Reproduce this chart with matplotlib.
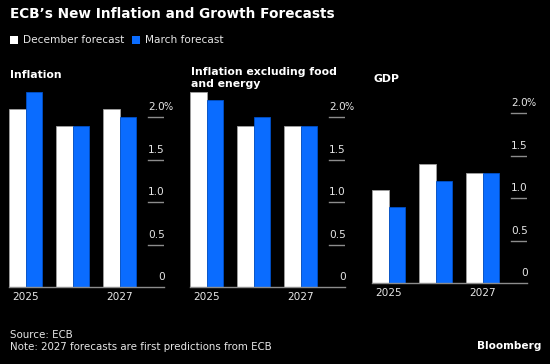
import numpy as np
import matplotlib
matplotlib.use('Agg')
import matplotlib.pyplot as plt

# Data
years = ['2025', '2026', '2027']
panel_titles = ['Inflation', 'Inflation excluding food\nand energy', 'GDP']
december = [[2.1, 1.9, 2.1], [2.3, 1.9, 1.9], [1.1, 1.4, 1.3]]
march = [[2.3, 1.9, 2.0], [2.2, 2.0, 1.9], [0.9, 1.2, 1.3]]
yticks = [0, 0.5, 1.0, 1.5, 2.0]
ytick_labels = ['0', '0.5', '1.0', '1.5', '2.0']
xtick_labels = ['2025', '', '2027']

W, H = 550, 364
bg = 'black'
blue = '#0a6cff'
txt = '#e6e6e6'
grid_c = '#8c8c8c'

fig = plt.figure(figsize=(W / 100, H / 100), dpi=100, facecolor=bg)

def px(x, y, w, h):
    # pixel box (left, top, width, height) -> figure fraction
    return [x / W, 1 - (y + h) / H, w / W, h / H]

fig.text(10 / W, 1 - 14 / H, "ECB\u2019s New Inflation and Growth Forecasts", color='white',
         fontsize=9.8, fontweight='bold', va='center', ha='left')

# legend
fig.patches.append(plt.Rectangle((10 / W, 1 - 44 / H), 8 / W, 8 / H, transform=fig.transFigure,
                                  facecolor='white', edgecolor='none'))
fig.text(23 / W, 1 - 40 / H, 'December forecast', color=txt, fontsize=7.6, va='center')
fig.patches.append(plt.Rectangle((132 / W, 1 - 44 / H), 8 / W, 8 / H, transform=fig.transFigure,
                                  facecolor=blue, edgecolor='none'))
fig.text(145 / W, 1 - 40 / H, 'March forecast', color=txt, fontsize=7.6, va='center')

# panel boxes: left px, baseline px, title y px
lefts = [9.3, 190.3, 372.3]
bases = [287.3, 287.3, 283.3]
title_y = [75, 78, 79]
aw = 154.7
ah = 195.5
bw = 0.35
x = np.arange(len(years))

for i in range(3):
    ax = fig.add_axes(px(lefts[i], bases[i] - ah, aw, ah))
    ax.set_facecolor(bg)
    ax.bar(x - bw / 2, december[i], bw, color='white', edgecolor='#a0a0a0', linewidth=0.6)
    ax.bar(x + bw / 2, march[i], bw, color=blue, edgecolor='#0050c8', linewidth=0.6)
    ax.set_xlim(-bw, 2.94)
    ax.set_ylim(0, 2.3)
    for s in ['top', 'right', 'left']:
        ax.spines[s].set_visible(False)
    ax.spines['bottom'].set_color(grid_c)
    ax.spines['bottom'].set_linewidth(1.0)
    ax.set_yticks([])
    ax.set_xticks(x)
    ax.set_xticklabels(xtick_labels, color=txt, fontsize=7.6)
    ax.tick_params(axis='x', length=0, pad=3.5)
    for v, lab in zip(yticks, ytick_labels):
        if v > 0:
            ax.axhline(v, xmin=0.897, xmax=1.0, color=grid_c, linewidth=1.0)
        ax.annotate(lab, (1.0, v), xycoords=('axes fraction', 'data'), xytext=(0.5, 3.5),
                    textcoords='offset points', ha='right', va='bottom', color=txt, fontsize=7.6)
        if lab == '2.0':
            ax.annotate('%', (1.0, v), xycoords=('axes fraction', 'data'), xytext=(-0.3, 3.5),
                        textcoords='offset points', ha='left', va='bottom', color=txt, fontsize=7.0)
    fig.text((lefts[i] + 1) / W, 1 - title_y[i] / H, panel_titles[i], color='white', fontsize=7.8,
             fontweight='bold', va='center', ha='left', linespacing=1.3)

fig.text(10 / W, 1 - 335 / H, 'Source: ECB', color=txt, fontsize=7.4, va='center')
fig.text(10 / W, 1 - 347 / H, 'Note: 2027 forecasts are first predictions from ECB', color=txt,
         fontsize=7.4, va='center')
fig.text(541 / W, 1 - 346 / H, 'Bloomberg', color='white', fontsize=7.6, fontweight='bold',
         va='center', ha='right')

fig.savefig('out.png', dpi=100, facecolor=bg)
